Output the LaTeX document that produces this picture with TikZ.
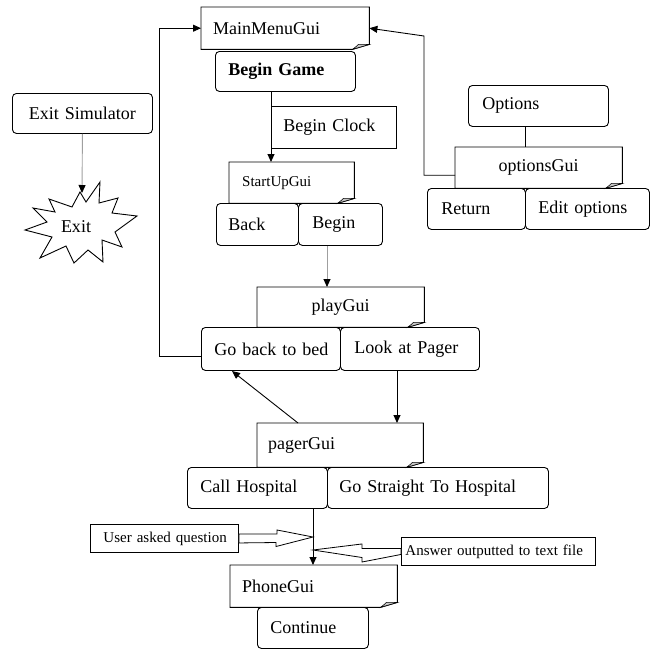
\documentclass[tikz,border=0pt]{standalone}
\usepackage{fontspec}
\setmainfont{Liberation Serif}
\usetikzlibrary{arrows.meta,calc}
\newcommand\foldframe[1]{%
  \draw[boxln] (#1.north west) -- (#1.north east) -- ([yshift=5pt]#1.south east)
    -- ([xshift=-17pt]#1.south east) -- (#1.south west) -- cycle;
  \filldraw[boxln, fill=gray!45, line width=0.6pt] ([xshift=-17pt]#1.south east)
    .. controls ([xshift=-13pt,yshift=3pt]#1.south east) .. ([xshift=-11pt,yshift=5pt]#1.south east)
    -- ([yshift=5pt]#1.south east) -- cycle;
}
\begin{document}
\begin{tikzpicture}[x=1pt,y=-1pt,
  boxln/.style={line width=0.9pt, draw=black},
  lbl/.style={anchor=north west, inner ysep=0pt, inner xsep=12pt, align=left,
    font=\fontsize{18}{21}\selectfont},
  small/.style={font=\fontsize{15}{18}\selectfont},
  rbox/.style={lbl, boxln, rounded corners=4pt},
  sbox/.style={lbl, boxln},
  fbox/.style={lbl},
  conn/.style={line width=0.9pt, -{Triangle[length=8pt,width=7pt]}},
  gconn/.style={line width=0.9pt, draw=gray!75, -{Triangle[length=8pt,width=7pt,color=black]}},
  plainln/.style={line width=0.9pt},
  hollow/.style={line width=0.8pt, fill=white, line join=miter},
]
\useasboundingbox (0,0) rectangle (653,649);

% ---- main column ----
\node[fbox, text width=144pt, minimum height=42pt] (main) at (201,7) {\mbox{MainMenuGui}};
\foldframe{main}
\node[rbox, inner xsep=13pt, text width=114pt, minimum height=40pt] (bg) at (215,51) {\mbox{\textbf{Begin Game}}};
\node[sbox, text width=101pt, minimum height=42pt] (bc) at (271,106) {\mbox{Begin Clock}};
\node[fbox, small, inner xsep=13pt, text width=99pt, minimum height=41pt] (su) at (229,162) {\mbox{StartUpGui}};
\foldframe{su}
\node[rbox, text width=58pt, minimum height=42pt] (back) at (216,203) {\mbox{Back}};
\node[rbox, inner xsep=14pt, text width=56pt, minimum height=42pt] (begin) at (298,203) {\mbox{Begin}};
\node[fbox, align=center, text width=143pt, minimum height=40pt] (play) at (257,287) {\mbox{playGui}};
\foldframe{play}
\node[rbox, inner xsep=13pt, text width=113pt, minimum height=43pt] (bed) at (201,327) {\mbox{Go back to bed}};
\node[rbox, inner xsep=14pt, text width=111pt, minimum height=43pt] (look) at (340,327) {\mbox{Look at Pager}};
\node[fbox, inner xsep=11pt, text width=144pt, minimum height=44pt] (pager) at (257,423) {\mbox{pagerGui}};
\foldframe{pager}
\node[rbox, inner xsep=13pt, text width=114pt, minimum height=41pt] (call) at (187,467) {\mbox{Call Hospital}};
\node[rbox, text width=197pt, minimum height=41pt] (gos) at (327,467) {\mbox{Go Straight To Hospital}};
\node[sbox, small, inner xsep=13pt, text width=122pt, minimum height=28pt] (user) at (90,524) {\mbox{User asked question}};
\node[sbox, small, inner xsep=4pt, text width=186pt, minimum height=28pt] (ans) at (401,537) {\mbox{Answer outputted to text file}};
\node[fbox, text width=143pt, minimum height=42pt] (phone) at (230,565) {\mbox{PhoneGui}};
\foldframe{phone}
\node[rbox, inner xsep=13pt, text width=85pt, minimum height=41pt] (cont) at (257,607) {\mbox{Continue}};

% ---- options ----
\node[rbox, inner xsep=14pt, text width=112pt, minimum height=41pt] (opt) at (468,85) {\mbox{Options}};
\node[fbox, align=center, text width=143pt, minimum height=41pt] (optg) at (455,147) {\mbox{optionsGui}};
\foldframe{optg}
\node[rbox, inner xsep=14pt, text width=70pt, minimum height=41pt] (ret) at (427,188) {\mbox{Return}};
\node[rbox, inner xsep=13pt, text width=98pt, minimum height=41pt] (edit) at (525,188) {\mbox{Edit options}};

% ---- exit ----
\node[rbox, align=center, inner xsep=6pt, text width=128pt, minimum height=40pt] (exs) at (12,93) {\mbox{Exit Simulator}};
\draw[boxln, fill=white, line join=miter]
  (49,199) -- (72,207) -- (80,192) -- (86,202) -- (100,182) -- (99,203) -- (118,198)
  -- (112,213) -- (137,216) -- (115,232) -- (122,247) -- (102,240) -- (103,262)
  -- (88,250) -- (74,263) -- (66,246) -- (40,258) -- (52,237) -- (25,230)
  -- (47,222) -- (33,208) -- (55,212) -- cycle;
\node[font=\fontsize{18}{21}\selectfont, inner sep=0pt] (exit) at (76,227) {Exit};
\coordinate (stip) at (82,193);
\draw[gconn] (exs.south) -- (stip);

% ---- helper coordinates ----
\coordinate (xa) at (271,0);
\coordinate (xb) at (327,0);
\coordinate (xc) at (397,0);
\coordinate (xd) at (313,0);
\coordinate (xo) at (525,0);
\coordinate (loopL) at (159,0);
\coordinate (loopR) at (424,0);
\coordinate (pgtop) at (298,423);
\coordinate (bedbot) at (232,371);
\coordinate (q1) at (313,537);
\coordinate (q2) at (313,550);

% ---- connectors ----
\draw[conn] (bg.south -| xa) -- (su.north -| xa);
\draw[gconn] (begin.south -| xb) -- (play.north -| xb);
\draw[conn] (look.south -| xc) -- (pager.north -| xc);
\draw[conn] (pgtop) -- (bedbot);
\draw[conn] (call.south -| xd) -- (phone.north -| xd);
\draw[plainln] (opt.south -| xo) -- (optg.north -| xo);
\draw[conn] ([yshift=-7.5pt]bed.west) -- ([yshift=-7.5pt]bed.west -| loopL) -- (main.west -| loopL) -- (main.west);
\draw[conn] ([yshift=-7.5pt]optg.west) -- ([yshift=-7.5pt]optg.west -| loopR) -- (424,36) -- (main.east);

% ---- hollow arrows ----
\draw[hollow] ([yshift=4.5pt]user.east) -- ++(38,0) -- ++(0,-4) -- (q1) -- (276,546.5) -- ++(0,-4) -- ([yshift=-4.5pt]user.east) -- cycle;
\draw[hollow] ([yshift=3pt]ans.west) -- ++(-39,0) -- ++(0,-4.5) -- (q2) -- (362,557.5) -- ++(0,4.5) -- ([yshift=-3pt]ans.west) -- cycle;
\end{tikzpicture}
\end{document}
